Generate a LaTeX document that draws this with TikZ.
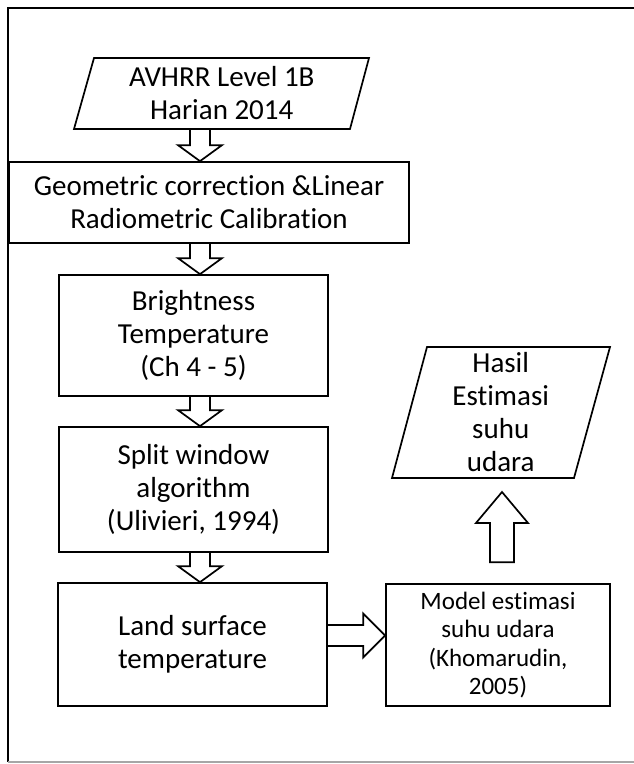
\documentclass[tikz,border=0pt]{standalone}
\usepackage{fontspec}
\setmainfont{Carlito}[Ligatures=NoCommon]
\usetikzlibrary{calc}
\newcommand\dnblk[2]{%
  \draw[blk] ($(#1)+(-10,0)$) -- ($(#2)+(-10,-16)$) -- ($(#2)+(-22,-16)$) -- (#2)
    -- ($(#2)+(22,-16)$) -- ($(#2)+(10,-16)$) -- ($(#1)+(10,0)$);}
\newcommand\upblk[2]{%
  \draw[blk] ($(#1)+(-12,0)$) -- ($(#2)+(-12,31)$) -- ($(#2)+(-26,31)$) -- (#2)
    -- ($(#2)+(26,31)$) -- ($(#2)+(12,31)$) -- ($(#1)+(12,0)$) -- cycle;}
\newcommand\rtblk[2]{%
  \draw[blk] ($(#1)+(0,-10.5)$) -- ($(#2)+(-22,-10.5)$) -- ($(#2)+(-22,-22)$) -- (#2)
    -- ($(#2)+(-22,22)$) -- ($(#2)+(-22,10.5)$) -- ($(#1)+(0,10.5)$);}
\begin{document}
\begin{tikzpicture}[x=1pt,y=-1pt,
  line/.style={draw=black, line width=1.7pt, line join=miter},
  box/.style={line, inner sep=0pt, align=center, font=\fontsize{29}{33}\selectfont},
  txt/.style={inner sep=0pt, align=center, font=\fontsize{29}{33}\selectfont},
  blk/.style={draw=black, line width=1.7pt, line join=miter},
  frame/.style={draw=black, line width=2.6pt}]
\useasboundingbox (0,0) rectangle (634,764);
\fill[white] (0,0) rectangle (634,764);
% frame
\draw[frame] (634,8) -- (8,8) -- (8,762);
\draw[gray!70, line width=1.5pt] (8,762) -- (634,762);
% input parallelogram
\node[txt] (p1) at (221.75,93.5) {AVHRR Level 1B\\Harian 2014};
\draw[line] ($(p1)+(-127.75,-35.5)$) -- ($(p1)+(147.25,-35.5)$) -- ($(p1)+(128.25,35.5)$) -- ($(p1)+(-147.75,35.5)$) -- cycle;
\coordinate (p1bot) at ($(p1)+(0,35.5)$);
% boxes
\node[box, minimum width=400pt, minimum height=81pt] (b2) at (209,202.5) {Geometric correction \&Linear\\Radiometric Calibration};
\node[box, minimum width=269pt, minimum height=121pt] (b3) at (193.5,335.5) {Brightness\\Temperature\\(Ch 4 - 5)};
\node[box, minimum width=269pt, minimum height=125pt] (b4) at (193.5,489.5) {Split window\\algorithm\\(Ulivieri, 1994)};
\node[box, minimum width=269pt, minimum height=123pt] (b5) at (192.5,644.5) {Land surface\\temperature};
\node[box, minimum width=224pt, minimum height=122pt, font=\fontsize{25}{28.5}\selectfont] (b6) at (498,645) {Model estimasi\\suhu udara\\(Khomarudin,\\2005)};
% output parallelogram
\node[txt] (p2) at (500.75,412.5) {Hasil\\Estimasi\\suhu\\udara};
\draw[line] ($(p2)+(-73.75,-65.5)$) -- ($(p2)+(109.25,-65.5)$) -- ($(p2)+(73.25,65.5)$) -- ($(p2)+(-108.75,65.5)$) -- cycle;
% block arrows
\coordinate (ax) at (200,0);
\dnblk{p1bot -| ax}{b2.north -| ax}
\dnblk{b2.south -| ax}{b3.north -| ax}
\dnblk{b3.south -| ax}{b4.north -| ax}
\dnblk{b4.south -| ax}{b5.north -| ax}
\coordinate (hy) at (0,635.5);
\rtblk{b5.east |- hy}{b6.west |- hy}
\coordinate (ux) at (502,0);
\coordinate (ubot) at ($(b6.north -| ux)+(0,-21)$);
\coordinate (utip) at ($(p2.center -| ux)+(0,79.5)$);
\upblk{ubot}{utip}
\end{tikzpicture}
\end{document}
